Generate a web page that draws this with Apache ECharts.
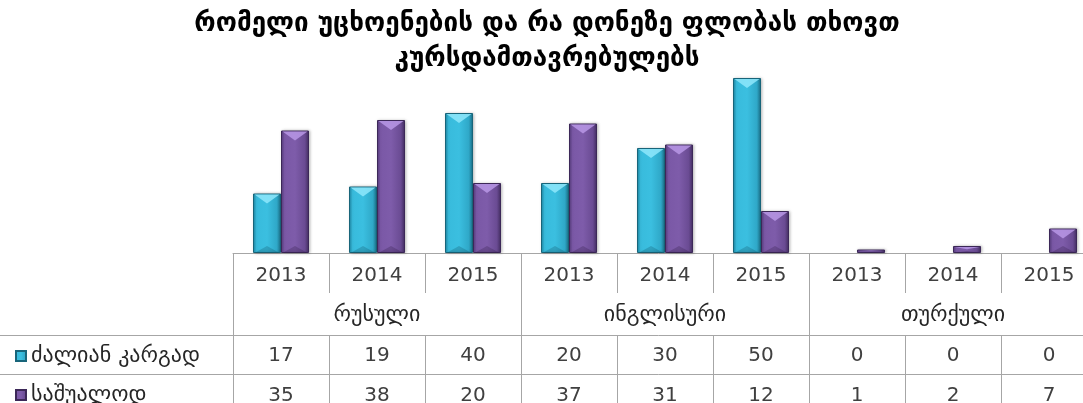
<!DOCTYPE html>
<html>
<head>
<meta charset="utf-8">
<script src="https://cdn.jsdelivr.net/npm/echarts@6/dist/echarts.min.js"></script>
<style>
  html, body { margin: 0; padding: 0; background: #ffffff; }
  #chart { width: 1083px; height: 403px; }
</style>
</head>
<body>
<div id="chart"></div>
<script>
// Survey: which foreign languages, and at what level, employers expect of graduates
const titleText = 'რომელი უცხოენების და რა დონეზე ფლობას თხოვთ\nკურსდამთავრებულებს';
const years = ['2013', '2014', '2015', '2013', '2014', '2015', '2013', '2014', '2015'];
const languages = ['რუსული', 'ინგლისური', 'თურქული'];
const seriesNames = ['ძალიან კარგად', 'საშუალოდ'];
const veryGood = [17, 19, 40, 20, 30, 50, 0, 0, 0];
const average = [35, 38, 20, 37, 31, 12, 1, 2, 7];

const FONT = 'DejaVu Sans';
const LINE = '#a6a6a6';
const BAR_W = 28;
const AXIS_Y = 253;
const ROW1 = 82;   // first data row line, below the axis
const ROW2 = 121;  // second data row line

const cyanFill = new echarts.graphic.LinearGradient(0, 0, 1, 0, [
  { offset: 0, color: '#1f8fae' },
  { offset: 0.12, color: '#38bbdc' },
  { offset: 0.5, color: '#3bbfe0' },
  { offset: 0.85, color: '#2fa8c8' },
  { offset: 1, color: '#1a6d84' }
]);
const purpleFill = new echarts.graphic.LinearGradient(0, 0, 1, 0, [
  { offset: 0, color: '#5b3f84' },
  { offset: 0.12, color: '#7a58a6' },
  { offset: 0.5, color: '#7e5caa' },
  { offset: 0.85, color: '#6a4b93' },
  { offset: 1, color: '#432e61' }
]);
const bevelTop = ['#8fe8fb', '#b998e6'];
const bevelBottom = ['rgba(10,70,90,0.25)', 'rgba(40,20,60,0.25)'];

// Bevel highlight drawn on top of each bar, from the same values
function bevel(seriesIdx) {
  return function (params, api) {
    const i = api.value(0);
    const v = api.value(1);
    if (!v) return null;
    const top = api.coord([i, v]);
    const base = api.coord([i, 0]);
    const x0 = top[0] - (seriesIdx === 0 ? BAR_W : 0);
    const x1 = x0 + BAR_W;
    const xm = (x0 + x1) / 2;
    const h = base[1] - top[1];
    const d = Math.min(10, h * 0.45);
    const db = Math.min(7, h * 0.3);
    return {
      type: 'group',
      children: [
        {
          type: 'polygon',
          shape: { points: [[x0 + 1.5, top[1] + 1], [x1 - 1.5, top[1] + 1], [xm, top[1] + d]] },
          style: { fill: bevelTop[seriesIdx], opacity: 0.85 }
        },
        {
          type: 'polygon',
          shape: { points: [[x0 + 1.5, base[1]], [x1 - 1.5, base[1]], [xm, base[1] - db]] },
          style: { fill: bevelBottom[seriesIdx] }
        }
      ]
    };
  };
}

// Bars of zero height are left without an outline
function barData(values) {
  return values.map(function (v) {
    return v === 0 ? { value: v, itemStyle: { borderWidth: 0, shadowBlur: 0 } } : v;
  });
}

function rowLabels(values) {
  return function (v, i) { return String(values[i]); };
}

const numText = { fontFamily: FONT, fontSize: 20, color: '#404040' };
const geoText = { fontFamily: FONT, fontSize: 22, color: '#262626' };

function legendFor(idx, top) {
  return {
    data: [seriesNames[idx]],
    orient: 'vertical',
    left: 10,
    top: top,
    icon: 'rect',
    itemWidth: 10,
    itemHeight: 10,
    textStyle: Object.assign({ lineHeight: 24 }, geoText)
  };
}

const chart = echarts.init(document.getElementById('chart'), null, { renderer: 'canvas' });
chart.setOption({
  animation: false,
  backgroundColor: '#ffffff',
  title: {
    text: titleText,
    left: 542,
    top: 2,
    textAlign: 'center',
    textStyle: { fontFamily: FONT, fontSize: 26, fontWeight: 'bold', color: '#000000', lineHeight: 35 }
  },
  legend: [legendFor(0, 339), legendFor(1, 378)],
  grid: { left: 233, width: 864, top: 78, bottom: 403 - AXIS_Y, containLabel: false, outerBoundsMode: 'none' },
  xAxis: [
    { // years row
      type: 'category', data: years, position: 'bottom', offset: 0,
      axisLine: { show: true, lineStyle: { color: LINE, width: 1 } },
      axisTick: { show: true, interval: 0, length: 40, lineStyle: { color: LINE } },
      axisLabel: Object.assign({ interval: 0, margin: 13 }, numText)
    },
    { // language group row
      type: 'category', data: years, position: 'bottom', offset: 0,
      axisLine: { show: false },
      axisTick: { show: true, interval: function (i) { return i % 3 === 0; }, length: 160, lineStyle: { color: LINE } },
      axisLabel: Object.assign({
        interval: function (i) { return i % 3 === 1; },
        margin: 51,
        formatter: function (v, i) { return languages[Math.floor(i / 3)]; }
      }, geoText)
    },
    { // first data row
      type: 'category', data: years, position: 'bottom', offset: ROW1,
      axisLine: { show: true, lineStyle: { color: LINE, width: 1 } },
      axisTick: { show: true, interval: 0, length: 80, lineStyle: { color: LINE } },
      axisLabel: Object.assign({ interval: 0, margin: 11, formatter: rowLabels(veryGood) }, numText)
    },
    { // second data row
      type: 'category', data: years, position: 'bottom', offset: ROW2,
      axisLine: { show: true, lineStyle: { color: LINE, width: 1 } },
      axisTick: { show: true, interval: 0, length: 40, lineStyle: { color: LINE } },
      axisLabel: Object.assign({ interval: 0, margin: 12, formatter: rowLabels(average) }, numText)
    }
  ],
  yAxis: { type: 'value', min: 0, max: 50, show: false, splitLine: { show: false } },
  graphic: [
    { type: 'line', z: 10, shape: { x1: 0, y1: AXIS_Y + ROW1 + 0.5, x2: 233, y2: AXIS_Y + ROW1 + 0.5 }, style: { stroke: LINE, lineWidth: 1 } },
    { type: 'line', z: 10, shape: { x1: 0, y1: AXIS_Y + ROW2 + 0.5, x2: 233, y2: AXIS_Y + ROW2 + 0.5 }, style: { stroke: LINE, lineWidth: 1 } }
  ],
  series: [
    {
      name: seriesNames[0], type: 'bar', data: barData(veryGood), barWidth: BAR_W, barGap: '0%',
      itemStyle: { color: cyanFill, borderColor: '#18657a', borderWidth: 1, shadowBlur: 3, shadowColor: 'rgba(0,0,0,0.25)', shadowOffsetX: 1 }
    },
    {
      name: seriesNames[1], type: 'bar', data: barData(average), barWidth: BAR_W, barGap: '0%',
      itemStyle: { color: purpleFill, borderColor: '#3c2858', borderWidth: 1, shadowBlur: 3, shadowColor: 'rgba(0,0,0,0.25)', shadowOffsetX: 1 }
    },
    {
      type: 'custom', z: 3, silent: true, renderItem: bevel(0),
      data: veryGood.map(function (v, i) { return [i, v]; })
    },
    {
      type: 'custom', z: 3, silent: true, renderItem: bevel(1),
      data: average.map(function (v, i) { return [i, v]; })
    }
  ]
});
</script>
</body>
</html>
